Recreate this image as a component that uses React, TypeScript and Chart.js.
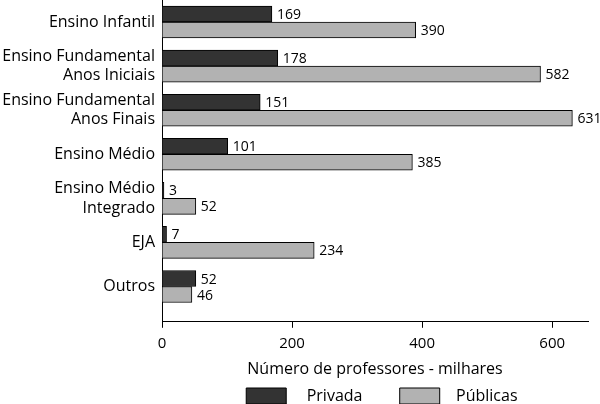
import { useEffect, useRef } from 'react';
import { Chart, registerables } from 'chart.js';

Chart.register(...registerables);

const categories: (string | string[])[] = [
  'Ensino Infantil',
  ['Ensino Fundamental', 'Anos Iniciais'],
  ['Ensino Fundamental', 'Anos Finais'],
  'Ensino Médio',
  ['Ensino Médio', 'Integrado'],
  'EJA',
  'Outros',
];
const privada = [169, 178, 151, 101, 3, 7, 52];
const publicas = [390, 582, 631, 385, 52, 234, 46];
const xTicks = [0, 200, 400, 600];
const seriesNames = ['Privada', 'Públicas'];
const axisTitle = 'Número de professores - milhares';

const FONT = '"Open Sans", "Noto Sans", sans-serif';

const valueLabels = {
  id: 'valueLabels',
  afterDatasetsDraw(chart: any) {
    const ctx = chart.ctx;
    ctx.save();
    ctx.font = `14px ${FONT}`;
    ctx.fillStyle = '#000';
    ctx.textBaseline = 'middle';
    ctx.textAlign = 'left';
    chart.data.datasets.forEach((ds: any, di: number) => {
      const meta = chart.getDatasetMeta(di);
      meta.data.forEach((el: any, i: number) => {
        const v = ds.data[i].x;
        ctx.fillText(String(v), el.x + 5, el.y + 1);
      });
    });
    ctx.restore();
  },
};

export default function App() {
  const ref = useRef<HTMLCanvasElement>(null);
  useEffect(() => {
    if (!ref.current) return;
    const toPoints = (arr: number[]) => arr.map((v, i) => ({ x: v, y: i }));
    const chart = new Chart(ref.current, {
      type: 'bar',
      data: {
        datasets: [
          {
            label: seriesNames[0],
            data: toPoints(privada) as any,
            backgroundColor: '#333333',
            borderColor: '#000',
            borderWidth: 1,
            barThickness: 16,
          },
          {
            label: seriesNames[1],
            data: toPoints(publicas) as any,
            backgroundColor: '#b2b2b2',
            borderColor: '#000',
            borderWidth: 1,
            barThickness: 16,
          },
        ],
      },
      options: {
        indexAxis: 'y',
        responsive: false,
        animation: false,
        layout: { padding: { top: 0, right: 12, left: 0, bottom: -10 } },
        scales: {
          x: {
            type: 'linear',
            min: 0,
            max: 655,
            bounds: 'data',
            afterBuildTicks: (s: any) => {
              s.ticks = xTicks.map((v) => ({ value: v }));
            },
            grid: { display: true, drawOnChartArea: false, drawTicks: true, tickLength: 6, color: '#000' },
            border: { display: true, color: '#000', width: 1 },
            ticks: { color: '#000', font: { family: FONT, size: 15 }, padding: 7 },
            title: {
              display: true,
              text: axisTitle,
              color: '#000',
              font: { family: FONT, size: 16 },
              padding: { top: 0, bottom: 5 },
            },
          },
          y: {
            type: 'linear',
            reverse: true,
            min: -0.5,
            max: 6.8,
            bounds: 'data',
            offset: false,
            afterBuildTicks: (s: any) => {
              s.ticks = categories.map((_, i) => ({ value: i }));
            },
            afterFit: (s: any) => {
              s.width = 162;
              s.paddingTop = 0;
              s.paddingBottom = 0;
            },
            grid: { display: false, drawTicks: false, offset: false },
            border: { display: true, color: '#000', width: 1 },
            ticks: {
              autoSkip: false,
              color: '#000',
              font: { family: FONT, size: 16 },
              padding: 7,
              callback: (v: any) => categories[v as number] as any,
            },
          },
        },
        plugins: {
          legend: {
            position: 'bottom',
            align: 'end',
            fullSize: false,
            labels: {
              boxWidth: 40,
              boxHeight: 16,
              padding: 4,
              color: '#000',
              font: { family: FONT, size: 16 },
              generateLabels: (c: any) => {
                const base = Chart.defaults.plugins.legend.labels.generateLabels(c);
                return base.map((it: any, i: number) => ({
                  ...it,
                  text:
                    i === 0
                      ? '   ' + it.text + '        '
                      : '  ' + it.text + '                ',
                }));
              },
            },
          },
          tooltip: { enabled: false },
        },
      },
      plugins: [valueLabels],
    });
    return () => chart.destroy();
  }, []);
  return (
    <div style={{ position: 'absolute', left: 0, top: 0, width: 600, height: 404, background: '#fff' }}>
      <canvas ref={ref} width={600} height={404} />
    </div>
  );
}
